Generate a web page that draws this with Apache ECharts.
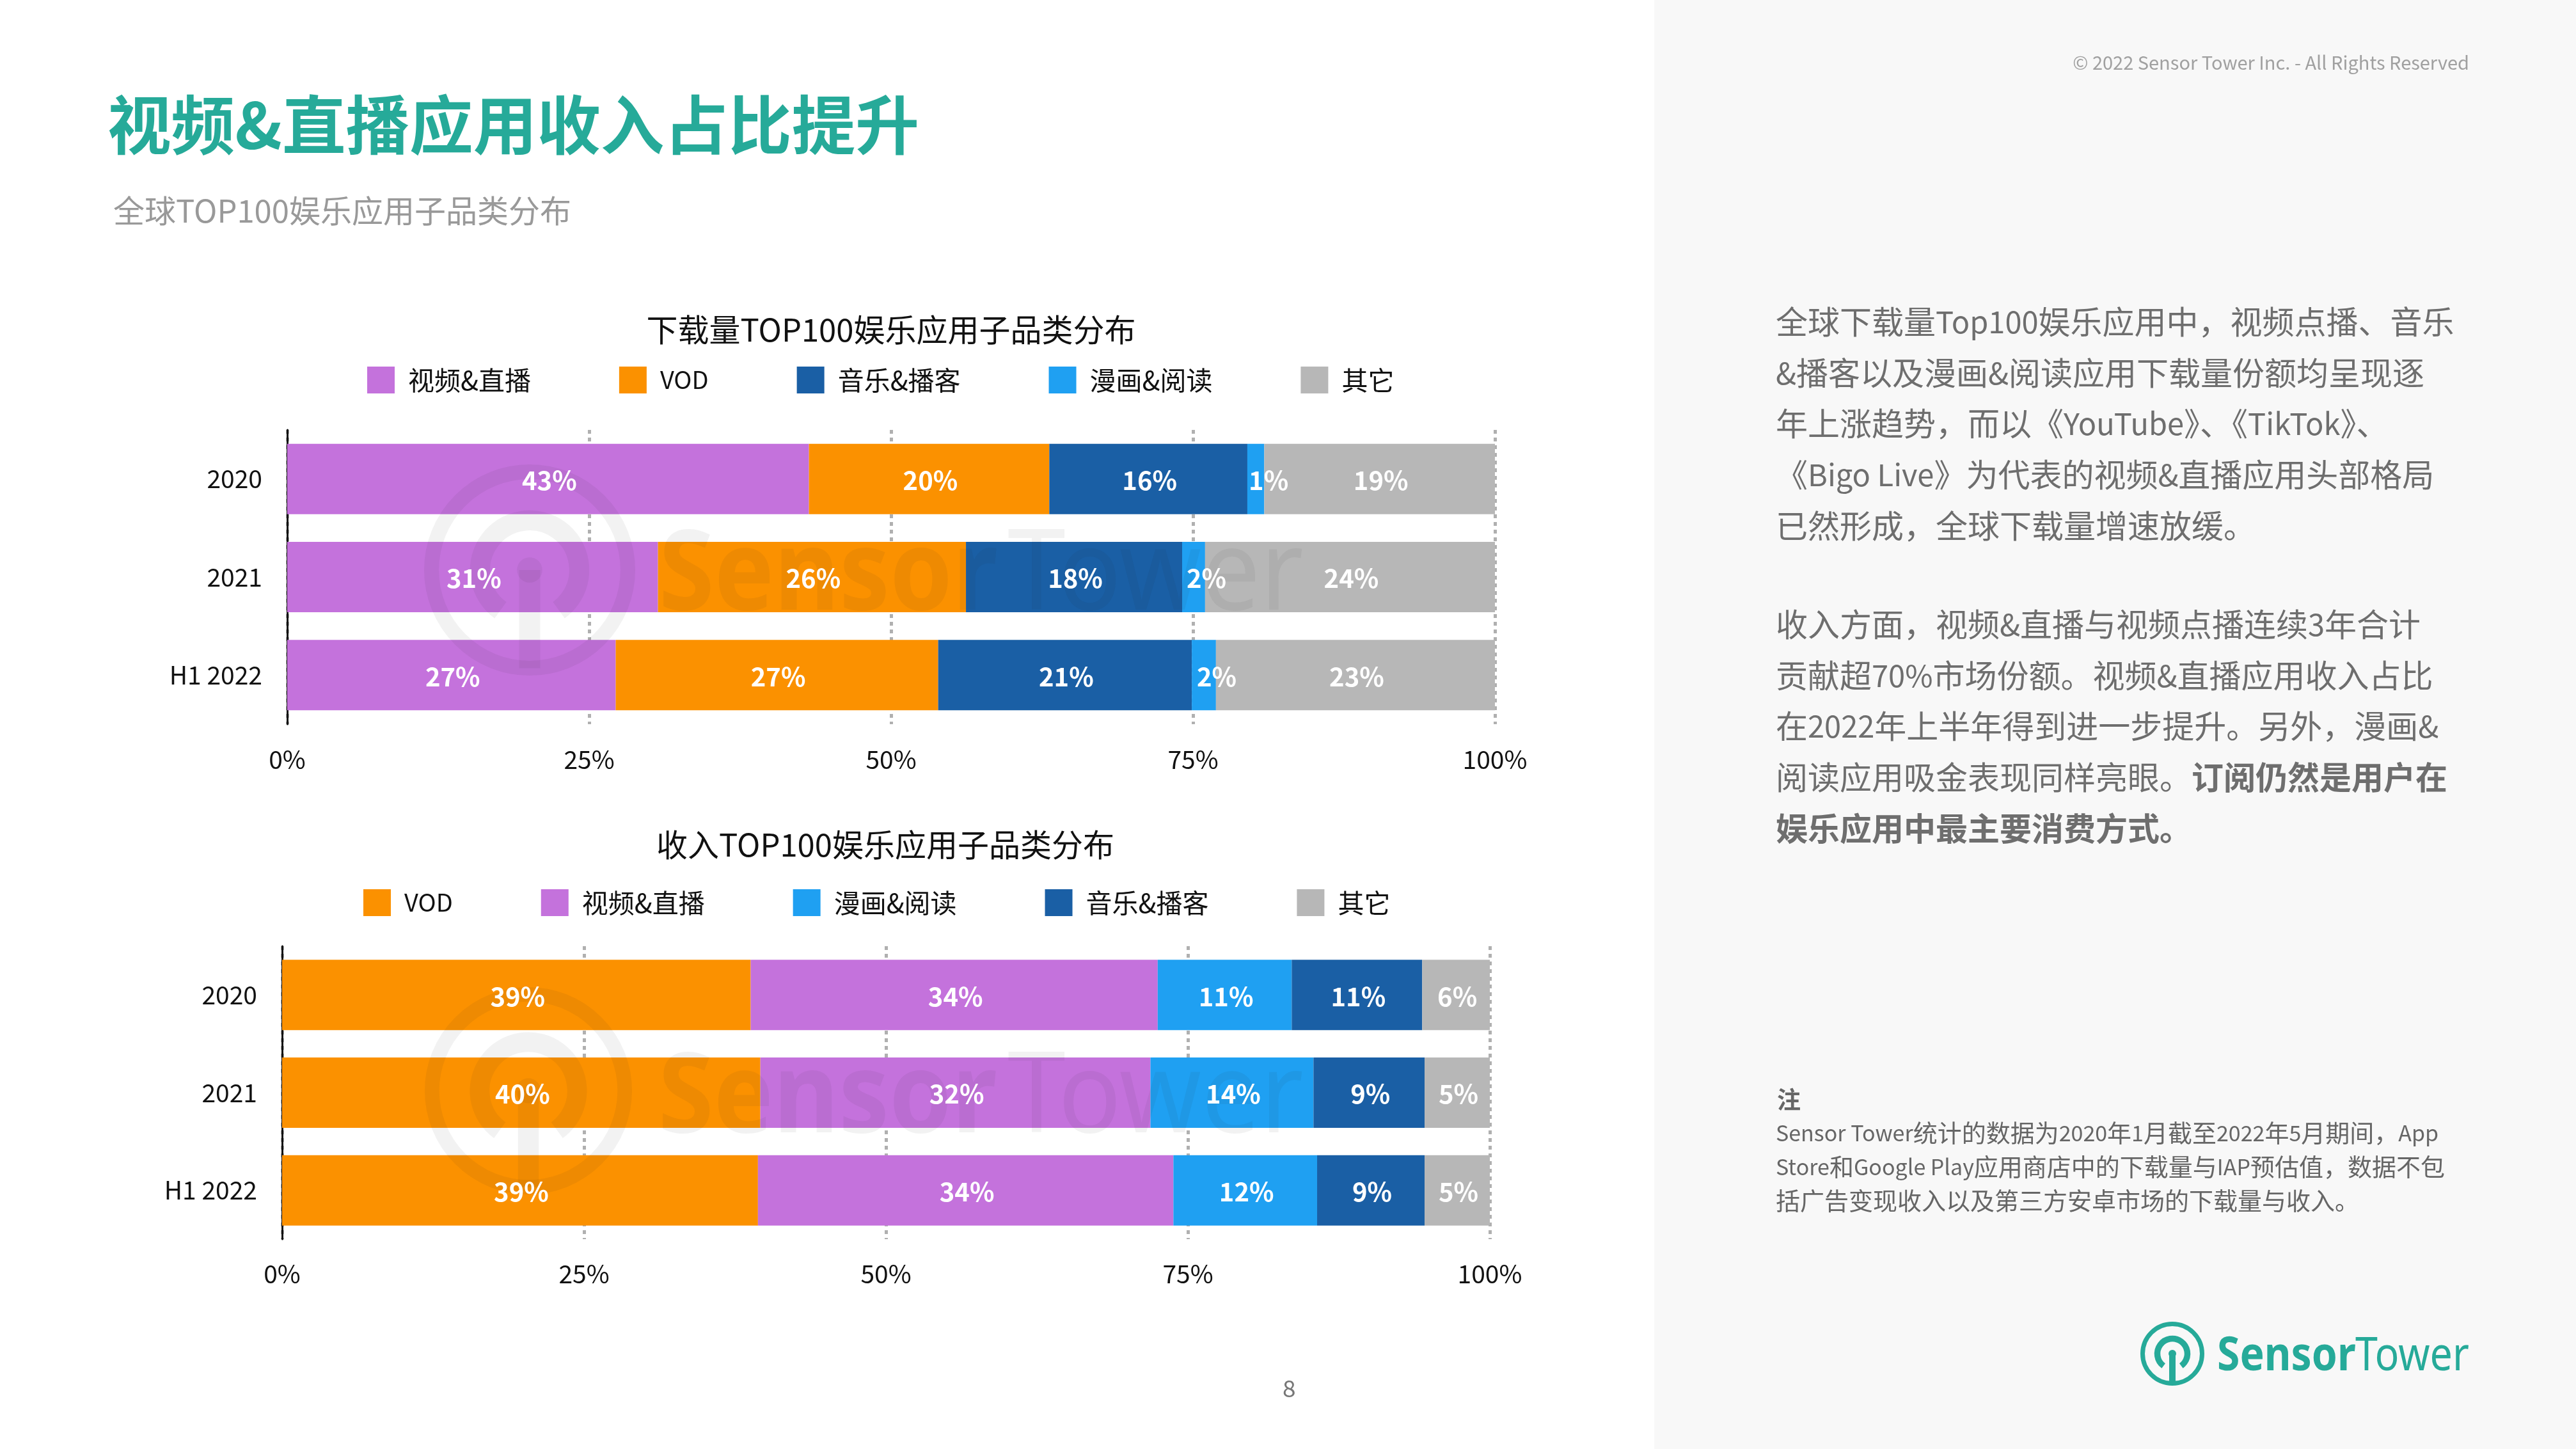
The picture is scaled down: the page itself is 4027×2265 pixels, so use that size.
<!DOCTYPE html>
<html>
<head>
<meta charset="utf-8">
<title>视频&直播应用收入占比提升</title>
<script src="https://cdn.jsdelivr.net/npm/echarts@6/dist/echarts.min.js"></script>
<style>
html,body{margin:0;padding:0;background:#fff}
#main{width:4027px;height:2265px}
</style>
</head>
<body>
<div id="main"></div>
<script>
var categories = ['2020', '2021', 'H1 2022'];
var ticks = [0, 25, 50, 75, 100];

// 下载量 share
var dlVideo = [43.2, 30.7, 27.2];
var dlVod = [19.9, 25.5, 26.7];
var dlMusic = [16.4, 17.9, 21.0];
var dlComic = [1.4, 1.9, 2.0];
var dlOther = [19.1, 24.0, 23.1];

// 收入 share
var revVod = [38.8, 39.6, 39.4];
var revVideo = [33.7, 32.3, 34.4];
var revComic = [11.1, 13.5, 11.9];
var revMusic = [10.8, 9.2, 8.9];
var revOther = [5.6, 5.4, 5.4];

var headline = '视频&直播应用收入占比提升';
var subhead = '全球TOP100娱乐应用子品类分布';
var dlTitle = '下载量TOP100娱乐应用子品类分布';
var revTitle = '收入TOP100娱乐应用子品类分布';
var copyright = '© 2022 Sensor Tower Inc. - All Rights Reserved';
var pageNo = '8';

var para1 = [
  '全球下载量Top100娱乐应用中，视频点播、音乐',
  '&播客以及漫画&阅读应用下载量份额均呈现逐',
  '年上涨趋势，而以《YouTube》、《TikTok》、',
  '《Bigo Live》为代表的视频&直播应用头部格局',
  '已然形成，全球下载量增速放缓。'
];
var para2 = [
  '收入方面，视频&直播与视频点播连续3年合计',
  '贡献超70%市场份额。视频&直播应用收入占比',
  '在2022年上半年得到进一步提升。另外，漫画&',
  '阅读应用吸金表现同样亮眼。{b|订阅仍然是用户在}',
  '{b|娱乐应用中最主要消费方式。}'
];
var noteHead = '注';
var noteLines = [
  'Sensor Tower统计的数据为2020年1月截至2022年5月期间，App',
  'Store和Google Play应用商店中的下载量与IAP预估值，数据不包',
  '括广告变现收入以及第三方安卓市场的下载量与收入。'
];

var FONT = '"Noto Sans CJK SC","Noto Sans",sans-serif';
var PURPLE = '#c472dc', ORANGE = '#fb9100', BLUE = '#1a5fa5', SKY = '#1fa0f2', GREY = '#b7b7b7';
var TEAL = '#26aa99';

function bar(name, color, values, stack, xIdx, yIdx) {
  return {
    name: name,
    type: 'bar',
    stack: stack,
    xAxisIndex: xIdx,
    yAxisIndex: yIdx,
    barWidth: 110,
    itemStyle: {color: color},
    label: {
      show: true,
      position: 'inside',
      color: '#fff',
      fontFamily: FONT,
      fontWeight: 'bold',
      fontSize: 40,
      offset: [2, 2],
      formatter: function (p) { return Math.round(p.value) + '%'; }
    },
    // thin slices: the label sits right of the slice
    data: values.map(function (v) {
      return v < 3 ? {value: v, label: {offset: [20, 2]}} : v;
    })
  };
}

function xAxis(gridIndex, margin) {
  return {
    type: 'value',
    gridIndex: gridIndex,
    min: ticks[0],
    max: ticks[ticks.length - 1],
    interval: ticks[1] - ticks[0],
    axisLine: {show: false},
    axisTick: {show: false},
    axisLabel: {formatter: '{value}%', fontSize: 39, color: '#111', fontFamily: FONT, margin: margin},
    splitLine: {show: true, lineStyle: {color: '#b0b0b0', width: 5, type: [6, 6]}}
  };
}

function yAxis(gridIndex) {
  return {
    type: 'category',
    gridIndex: gridIndex,
    inverse: true,
    data: categories,
    axisLine: {show: true, lineStyle: {color: '#111', width: 3}},
    axisTick: {show: false},
    axisLabel: {fontSize: 39, color: '#111', fontFamily: FONT, margin: 39, padding: [5, 0, 0, 0]}
  };
}

function legend(left, top, names) {
  return {
    left: left,
    top: top,
    padding: 0,
    orient: 'horizontal',
    icon: 'rect',
    itemWidth: 43,
    itemHeight: 42,
    itemGap: 138,
    selectedMode: false,
    data: names,
    // VOD runs narrower than the CJK names
    formatter: function (name) { return name === 'VOD' ? '{v|VOD}' : name; },
    textStyle: {
      fontSize: 41, color: '#111', fontFamily: FONT, padding: [0, 0, 0, 16],
      rich: {v: {fontSize: 38, color: '#111', fontFamily: FONT}}
    }
  };
}

function txt(x, y, text, size, color, extra) {
  var style = {
    x: 0, y: 0, text: text, fontSize: size, fill: color, fontFamily: FONT,
    verticalAlign: 'middle', align: 'left'
  };
  for (var k in extra) style[k] = extra[k];
  return {type: 'text', x: x, y: y, z: 5, silent: true, style: style};
}

// latin runs are narrower than the CJK in the body copy
function tagLatin(line) {
  return line.indexOf('{') >= 0 ? line : line.replace(/[A-Za-z0-9 %&]+/g, '{l|$&}');
}

// Sensor Tower antenna mark
function mark(cx, cy, r, color, z, z2) {
  var ringW = r * 0.14, arcW = r * 0.19;
  return [
    {type: 'circle', z: z, z2: z2, silent: true, shape: {cx: cx, cy: cy, r: r - ringW / 2},
      style: {stroke: color, fill: null, lineWidth: ringW}},
    {type: 'arc', z: z, z2: z2, silent: true,
      shape: {cx: cx, cy: cy, r: r * 0.47, startAngle: Math.PI * 0.7, endAngle: Math.PI * 2.3, clockwise: true},
      style: {stroke: color, fill: null, lineWidth: arcW}},
    {type: 'circle', z: z, z2: z2, silent: true, shape: {cx: cx, cy: cy, r: r * 0.12}, style: {fill: color}},
    {type: 'line', z: z, z2: z2, silent: true, shape: {x1: cx, y1: cy, x2: cx, y2: cy + r - ringW / 2},
      style: {stroke: color, lineWidth: r * 0.2}}
  ];
}

function wordmark(x1, x2, y, size, color, sx1, sx2, z, z2) {
  return [
    {type: 'text', x: x1, y: y, scaleX: sx1, z: z, z2: z2, silent: true, style: {
      x: 0, y: 0, text: 'Sensor', fontFamily: '"Noto Sans"', fontWeight: 'bold', fontSize: size, fill: color, verticalAlign: 'middle'}},
    {type: 'text', x: x2, y: y, scaleX: sx2, z: z, z2: z2, silent: true, style: {
      x: 0, y: 0, text: 'Tower', fontFamily: '"Noto Sans"', fontSize: size, fill: color, verticalAlign: 'middle'}}
  ];
}

var WM = 'rgba(40,40,40,0.06)';
var BODY = '#6e6e6e', NOTE = '#666666';
var elements = [
  {type: 'rect', z: -1, silent: true, shape: {x: 2586, y: 0, width: 1441, height: 2265}, style: {fill: '#f8f8f8'}},
  txt(168, 195, headline, 99.6, TEAL, {fontWeight: 'bold'}),
  txt(177, 329, subhead, 49, '#999999'),
  txt(3860, 98, copyright, 29, '#a0a0a0', {align: 'right'}),
  txt(2005, 2170, pageNo, 37, '#777777'),
  txt(2778, 1719, noteHead, 37, NOTE, {fontWeight: 'bold'})
];
var bodyRich = {
  b: {fontWeight: 'bold', fontSize: 50, fontFamily: FONT, fill: BODY, color: BODY},
  l: {fontSize: 47, fontFamily: FONT, fill: BODY, color: BODY}
};
var noteRich = {l: {fontSize: 34, fontFamily: FONT, fill: NOTE, color: NOTE}};
para1.forEach(function (line, i) {
  elements.push(txt(2776, 503 + i * 79.7, tagLatin(line), 50, BODY, {rich: bodyRich}));
});
para2.forEach(function (line, i) {
  elements.push(txt(2776, 976 + i * 79.7, tagLatin(line), 50, BODY, {rich: bodyRich}));
});
noteLines.forEach(function (line, i) {
  elements.push(txt(2776, 1771 + i * 52.6, tagLatin(line), 38, NOTE, {rich: noteRich}));
});
elements = elements
  .concat(mark(828, 891, 165, WM, 2, 1.5))
  .concat(wordmark(1030, 1575, 903, 175, WM, 0.897, 0.933, 2, 1.5))
  .concat(mark(826, 1705, 162, WM, 2, 1.5))
  .concat(wordmark(1029, 1575, 1720, 175, WM, 0.897, 0.933, 2, 1.5))
  .concat(mark(3396, 2116, 50, TEAL, 5, 0))
  .concat(wordmark(3466, 3682, 2121, 73, TEAL, 0.88, 0.86, 5, 0));

var myChart = echarts.init(document.getElementById('main'));
var option = {
  animation: false,
  backgroundColor: '#ffffff',
  textStyle: {fontFamily: FONT},
  title: [
    {text: dlTitle, left: 1388, top: 486, textAlign: 'center', textStyle: {fontSize: 49, fontWeight: 'normal', color: '#111', fontFamily: FONT}},
    {text: revTitle, left: 1379, top: 1291, textAlign: 'center', textStyle: {fontSize: 49, fontWeight: 'normal', color: '#111', fontFamily: FONT}}
  ],
  legend: [
    legend(574, 573, ['视频&直播', 'VOD', '音乐&播客', '漫画&阅读', '其它']),
    legend(568, 1390, ['VOD', '视频&直播', '漫画&阅读', '音乐&播客', '其它'])
  ],
  grid: [
    {left: 449, width: 1888, top: 672, height: 460},
    {left: 441, width: 1888, top: 1479, height: 458}
  ],
  xAxis: [xAxis(0, 36), xAxis(1, 35)],
  yAxis: [yAxis(0), yAxis(1)],
  series: [
    bar('视频&直播', PURPLE, dlVideo, 'dl', 0, 0),
    bar('VOD', ORANGE, dlVod, 'dl', 0, 0),
    bar('音乐&播客', BLUE, dlMusic, 'dl', 0, 0),
    bar('漫画&阅读', SKY, dlComic, 'dl', 0, 0),
    bar('其它', GREY, dlOther, 'dl', 0, 0),
    bar('VOD', ORANGE, revVod, 'rev', 1, 1),
    bar('视频&直播', PURPLE, revVideo, 'rev', 1, 1),
    bar('漫画&阅读', SKY, revComic, 'rev', 1, 1),
    bar('音乐&播客', BLUE, revMusic, 'rev', 1, 1),
    bar('其它', GREY, revOther, 'rev', 1, 1)
  ],
  graphic: {elements: elements}
};
myChart.setOption(option);
</script>
</body>
</html>
